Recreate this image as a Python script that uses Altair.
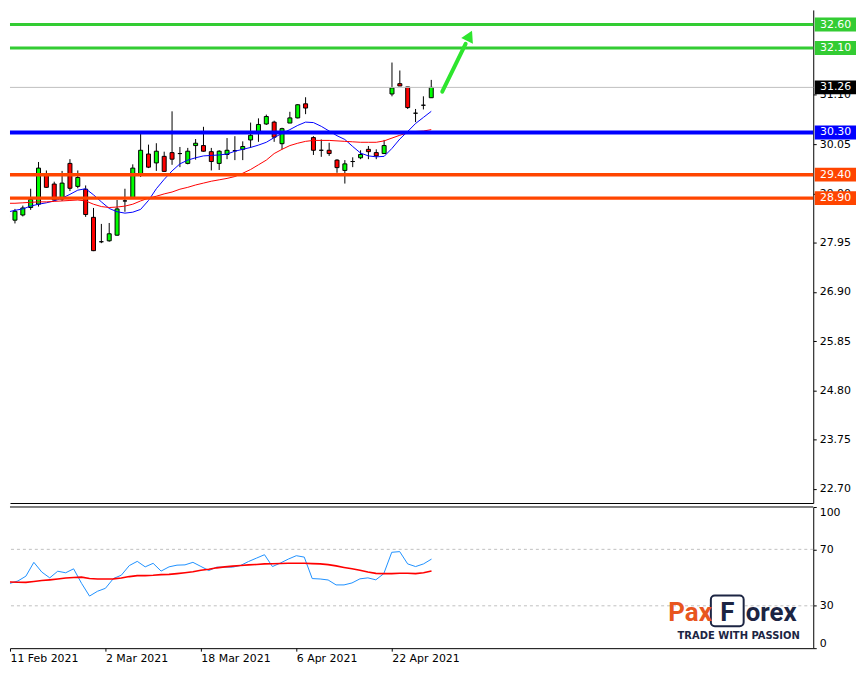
import altair as alt
import pandas as pd

FONT = "DejaVu Sans"
LOGO_FONT = "Roboto"

# ---------------- data ----------------
dates = ["10 Feb", "11 Feb", "12 Feb", "16 Feb", "17 Feb", "18 Feb", "19 Feb", "22 Feb", "23 Feb", "24 Feb",
         "25 Feb", "26 Feb", "1 Mar", "2 Mar", "3 Mar", "4 Mar", "5 Mar", "8 Mar", "9 Mar", "10 Mar",
         "11 Mar", "12 Mar", "15 Mar", "16 Mar", "17 Mar", "18 Mar", "19 Mar", "22 Mar", "23 Mar", "24 Mar",
         "25 Mar", "26 Mar", "29 Mar", "30 Mar", "31 Mar", "1 Apr", "5 Apr", "6 Apr", "7 Apr", "8 Apr",
         "9 Apr", "12 Apr", "13 Apr", "14 Apr", "15 Apr", "16 Apr", "19 Apr", "20 Apr", "21 Apr", "22 Apr",
         "23 Apr", "26 Apr", "27 Apr", "28 Apr", "29 Apr"]

opens = [28.54, 28.43, 28.54, 28.70, 28.77, 29.39, 29.20, 28.88, 29.64, 29.15,
         29.09, 28.49, 27.97, 27.99, 28.11, 28.84, 28.91, 29.40, 29.84, 29.65,
         29.79, 29.87, 29.85, 29.64, 30.02, 30.02, 29.89, 29.64, 29.83, 29.91,
         29.94, 30.14, 30.28, 30.48, 30.52, 30.06, 30.50, 30.61, 30.91, 30.19,
         29.92, 29.92, 29.71, 29.49, 29.68, 29.76, 29.94, 29.87, 29.85, 31.12,
         31.34, 31.27, 30.71, 30.88, 31.04]
highs = [28.57, 28.67, 28.74, 29.10, 29.67, 29.49, 29.25, 29.48, 29.73, 29.49,
         29.17, 28.69, 28.35, 28.37, 28.86, 29.10, 29.62, 30.28, 30.04, 30.07,
         29.89, 30.75, 29.99, 29.97, 30.16, 30.42, 29.97, 29.92, 30.18, 30.22,
         30.11, 30.51, 30.60, 30.68, 30.55, 30.40, 30.74, 30.90, 31.05, 30.22,
         30.15, 30.08, 29.73, 29.71, 29.77, 29.92, 30.01, 29.94, 30.14, 31.79,
         31.62, 31.27, 30.80, 31.07, 31.42]
lows = [28.45, 28.36, 28.51, 28.65, 28.72, 29.12, 28.84, 28.84, 29.05, 29.11,
        28.50, 27.77, 27.94, 27.97, 28.10, 28.61, 28.90, 29.35, 29.54, 29.48,
        29.46, 29.61, 29.56, 29.62, 29.72, 29.89, 29.49, 29.50, 29.73, 29.71,
        29.71, 29.97, 30.10, 30.46, 30.10, 29.94, 30.50, 30.60, 30.69, 29.82,
        29.78, 29.80, 29.44, 29.21, 29.56, 29.73, 29.73, 29.73, 29.84, 31.07,
        31.29, 30.80, 30.52, 30.79, 31.04]
closes = [28.48, 28.62, 28.69, 28.87, 29.54, 29.13, 28.86, 29.22, 29.11, 29.34,
          28.55, 27.78, 27.97, 28.14, 28.67, 28.84, 29.54, 29.92, 29.56, 29.90,
          29.47, 29.73, 29.85, 29.90, 30.07, 29.90, 29.68, 29.90, 29.92, 29.91,
          30.00, 30.24, 30.47, 30.64, 30.20, 30.38, 30.61, 30.89, 30.82, 29.92,
          29.92, 29.85, 29.55, 29.63, 29.68, 29.83, 29.89, 29.80, 30.02, 31.25,
          31.29, 30.83, 30.71, 30.88, 31.26]
ma_fast = [28.60, 28.64, 28.67, 28.73, 28.77, 28.80, 28.84, 28.90, 28.98, 29.07,
           29.10, 28.97, 28.82, 28.68, 28.61, 28.58, 28.60, 28.66, 28.85, 29.10,
           29.30, 29.48, 29.63, 29.71, 29.76, 29.80, 29.81, 29.82, 29.84, 29.90,
           29.94, 29.98, 30.03, 30.09, 30.19, 30.28, 30.36, 30.45, 30.52, 30.51,
           30.43, 30.33, 30.23, 30.15, 30.00, 29.86, 29.80, 29.78, 29.79, 29.96,
           30.16, 30.32, 30.49, 30.62, 30.75]
ma_slow = [28.79, 28.79, 28.80, 28.81, 28.82, 28.82, 28.83, 28.84, 28.85, 28.86,
           28.84, 28.77, 28.72, 28.70, 28.71, 28.73, 28.77, 28.84, 28.90, 28.94,
           28.99, 29.03, 29.09, 29.13, 29.18, 29.22, 29.26, 29.29, 29.32, 29.36,
           29.43, 29.51, 29.61, 29.71, 29.85, 29.94, 30.02, 30.07, 30.11, 30.13,
           30.13, 30.13, 30.12, 30.11, 30.10, 30.09, 30.09, 30.09, 30.12, 30.18,
           30.24, 30.29, 30.32, 30.33, 30.36]
rsi_vals = [44.1, 45.9, 47.6, 51.0, 60.8, 53.9, 49.8, 54.5, 53.4, 56.2,
            45.9, 36.9, 40.3, 42.4, 49.3, 51.7, 58.5, 61.5, 57.6, 60.1,
            54.6, 57.6, 58.8, 59.0, 60.8, 57.9, 55.0, 57.4, 57.4, 57.4,
            58.6, 61.4, 63.8, 66.2, 57.8, 60.3, 63.1, 65.5, 64.5, 49.3,
            49.0, 48.3, 44.8, 44.8, 46.2, 49.1, 49.8, 48.4, 52.8, 67.9,
            68.4, 59.7, 57.8, 59.7, 63.1]
rsi_ma = [47.0, 46.9, 46.7, 46.6, 47.2, 47.9, 48.4, 49.0, 49.7, 50.1,
          50.3, 49.4, 49.0, 49.0, 49.1, 49.7, 50.7, 51.4, 51.4, 51.6,
          52.1, 52.3, 52.8, 53.4, 54.1, 55.2, 55.9, 56.9, 57.6, 58.1,
          58.5, 59.0, 59.3, 59.7, 59.8, 60.0, 60.1, 60.2, 60.1, 59.9,
          59.7, 59.2, 58.3, 57.2, 56.2, 55.2, 53.9, 53.0, 52.8, 52.8,
          53.1, 53.1, 52.8, 53.4, 54.6]

price_ticks = [22.70, 23.75, 24.80, 25.85, 26.90, 27.95, 29.00, 30.05, 31.10]
rsi_ticks = [0, 30, 70, 100]
rsi_levels = [70, 30]
x_tick_dates = ["11 Feb", "2 Mar", "18 Mar", "6 Apr", "22 Apr"]
x_tick_year = "2021"

level_prices = [32.60, 32.10, 30.30, 29.40, 28.90]
level_colors = ["#33cc33", "#33cc33", "#0000ff", "#ff4500", "#ff4500"]
level_widths = [3, 3, 4, 3.5, 3.5]
bid_price = 31.26

box_prices = [32.60, 32.10, 31.26, 30.30, 29.40, 28.90]
box_colors = ["#33cc33", "#33cc33", "#000000", "#0000ff", "#ff4500", "#ff4500"]

arrow_k = [54.4, 57.375]
arrow_p = [31.17, 32.19]
arrow_head_k = [57.875]
arrow_head_p = [32.36]

# ---------------- frames ----------------
n = len(dates)
idx = list(range(-1, n - 1))
bars = pd.DataFrame({"k": idx, "date": dates, "open": opens, "high": highs,
                     "low": lows, "close": closes, "maf": ma_fast, "mas": ma_slow})
bars["dir"] = ["up" if c > o else ("down" if c < o else "flat") for o, c in zip(opens, closes)]
ind = pd.DataFrame({"k": idx, "rsi": rsi_vals, "rsima": rsi_ma})
levels = pd.DataFrame({"p": level_prices, "c": level_colors, "w": level_widths})
boxes = pd.DataFrame({"p": box_prices, "c": box_colors,
                      "t": [f"{v:.2f}" for v in box_prices]})
arrow = pd.DataFrame({"k": arrow_k, "p": arrow_p})
head = pd.DataFrame({"k": arrow_head_k, "p": arrow_head_p})
tick_idx = [idx[dates.index(d)] for d in x_tick_dates]

W, H_MAIN, H_IND = 808, 496, 142
xs = alt.Scale(domain=[0, 101], nice=False, zero=False)
ys = alt.Scale(domain=[22.4008, 32.9115], nice=False, zero=False)

x_main = alt.X("k:Q", scale=xs, title=None,
               axis=alt.Axis(labels=False, ticks=False, domain=True, domainColor="black",
                             grid=False, title=None))
y_axis = alt.Axis(orient="right", values=price_ticks, format=".2f", grid=False,
                  domainColor="black", tickColor="black", tickSize=3, labelPadding=3,
                  labelFont=FONT, labelFontSize=11, labelColor="black", title=None)


def py(field):
    return alt.Y(field, scale=ys, axis=y_axis, title=None)


wicks = alt.Chart(bars).mark_rule(color="black", strokeWidth=1, clip=True).encode(
    x=x_main, y=py("low:Q"), y2="high:Q")
bodies = alt.Chart(bars).mark_bar(size=4, stroke="black", strokeWidth=1, clip=True).encode(
    x=x_main, y=py("open:Q"), y2="close:Q",
    color=alt.Color("dir:N", scale=alt.Scale(domain=["up", "down", "flat"],
                                             range=["#00ff00", "#ff0000", "#000000"]),
                    legend=None))
maf_line = alt.Chart(bars).mark_line(color="#0000ff", strokeWidth=1, clip=True).encode(
    x=x_main, y=py("maf:Q"))
mas_line = alt.Chart(bars).mark_line(color="#ff0000", strokeWidth=1, clip=True).encode(
    x=x_main, y=py("mas:Q"))
bid = alt.Chart(pd.DataFrame({"p": [bid_price]})).mark_rule(color="#c0c0c0", strokeWidth=1).encode(
    y=py("p:Q"))
lvl = alt.Chart(levels).mark_rule().encode(
    y=py("p:Q"),
    color=alt.Color("c:N", scale=None),
    strokeWidth=alt.StrokeWidth("w:Q", scale=None))
arrow_line = alt.Chart(arrow).mark_line(color="#2ee52e", strokeWidth=4, strokeCap="round",
                                        clip=True).encode(
    x=x_main, y=py("p:Q"))
arrow_head = alt.Chart(head).mark_point(shape="triangle-up", filled=True, color="#2ee52e",
                                        size=170, angle=26, opacity=1, clip=True).encode(
    x=x_main, y=py("p:Q"))
box_rects = alt.Chart(boxes).mark_rect(yOffset=-7, y2Offset=7).encode(
    y=py("p:Q"), y2="p:Q", x=alt.value(809.5), x2=alt.value(851),
    color=alt.Color("c:N", scale=None))
box_text = alt.Chart(boxes).mark_text(color="white", font=FONT, fontSize=11,
                                      align="center", baseline="middle").encode(
    y=py("p:Q"), x=alt.value(830.5), text="t:N")

main = alt.layer(wicks, bodies, maf_line, mas_line, bid, lvl, arrow_line, arrow_head,
                 box_rects, box_text).properties(width=W, height=H_MAIN)

# ---------------- indicator ----------------
rs = alt.Scale(domain=[0, 100], nice=False, zero=False)
label_expr = " : ".join(f"datum.value == {k} ? '{d} {x_tick_year}'" for k, d in zip(tick_idx, x_tick_dates)) + " : ''"
x_ind = alt.X("k:Q", scale=xs, title=None,
              axis=alt.Axis(values=tick_idx, labelExpr=label_expr, labelAlign="left",
                            labelBaseline="top", labelFlush=False, labelPadding=1,
                            tickSize=3, tickColor="black", domainColor="black",
                            labelFont=FONT, labelFontSize=11, labelColor="black",
                            grid=False, title=None))
r_axis = alt.Axis(orient="right", values=rsi_ticks, grid=False, labelFlush=True,
                  domainColor="black", tickColor="black", tickSize=3, labelPadding=3,
                  labelFont=FONT, labelFontSize=11, labelColor="black", title=None)


def ry(field):
    return alt.Y(field, scale=rs, axis=r_axis, title=None)


dash = alt.Chart(pd.DataFrame({"v": rsi_levels})).mark_rule(
    color="#c0c0c0", strokeDash=[3, 3], strokeWidth=1).encode(y=ry("v:Q"))
rsi_line = alt.Chart(ind).mark_line(color="#1e90ff", strokeWidth=1, clip=True).encode(
    x=x_ind, y=ry("rsi:Q"))
rsima_line = alt.Chart(ind).mark_line(color="#ff0000", strokeWidth=1.6, clip=True).encode(
    x=x_ind, y=ry("rsima:Q"))
top_border = alt.Chart(pd.DataFrame({"v": [100]})).mark_rule(color="black", strokeWidth=1).encode(
    y=ry("v:Q"))

NAVY = "#1c2543"
ORANGE = "#e8561f"
logo_a = alt.Chart(pd.DataFrame({"t": ["Pax"]})).mark_text(
    font=LOGO_FONT, fontSize=26, fontWeight="bold", color=ORANGE,
    align="right", baseline="alphabetic").encode(
    x=alt.value(706), y=alt.value(115), text="t:N")
logo_box = alt.Chart(pd.DataFrame({"t": ["F"]})).mark_rect(
    fill="white", stroke=NAVY, strokeWidth=2, cornerRadius=4).encode(
    x=alt.value(705), x2=alt.value(738), y=alt.value(89), y2=alt.value(120))
logo_f = alt.Chart(pd.DataFrame({"t": ["F"]})).mark_text(
    font=LOGO_FONT, fontSize=26, fontWeight="bold", color=NAVY,
    align="center", baseline="alphabetic").encode(
    x=alt.value(721.5), y=alt.value(115), text="t:N")
logo_b = alt.Chart(pd.DataFrame({"t": ["orex"]})).mark_text(
    font=LOGO_FONT, fontSize=26, fontWeight="bold", color=NAVY,
    align="left", baseline="alphabetic").encode(
    x=alt.value(740), y=alt.value(115), text="t:N")
logo_c = alt.Chart(pd.DataFrame({"t": ["TRADE WITH PASSION"]})).mark_text(
    font=FONT, fontSize=10, fontWeight="bold", color=NAVY,
    align="center", baseline="middle").encode(
    x=alt.value(733), y=alt.value(130), text="t:N")

indicator = alt.layer(dash, rsi_line, rsima_line, top_border, logo_box, logo_a, logo_f,
                      logo_b, logo_c).properties(width=W, height=H_IND)

chart = alt.vconcat(main, indicator, spacing=3).properties(
    padding={"left": 0, "top": 0, "right": 0, "bottom": 0},
    background="white").configure_view(stroke=None)

chart.save("out.html", embed_options={"renderer": "svg", "actions": False})
